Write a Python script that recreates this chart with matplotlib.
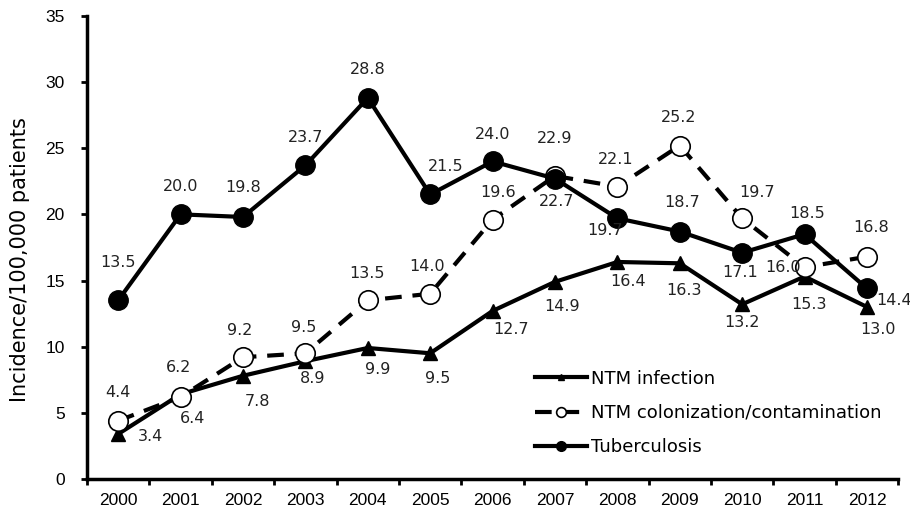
import matplotlib
matplotlib.use("Agg")
import matplotlib.pyplot as plt
import numpy as np

plt.rcParams['font.family'] = ['Liberation Sans', 'DejaVu Sans']

# 데이터
years = ['2000', '2001', '2002', '2003', '2004', '2005', '2006',
         '2007', '2008', '2009', '2010', '2011', '2012']
ntm_infection = [3.4, 6.4, 7.8, 8.9, 9.9, 9.5, 12.7, 14.9, 16.4, 16.3, 13.2, 15.3, 13.0]
ntm_colonization = [4.4, 6.2, 9.2, 9.5, 13.5, 14.0, 19.6, 22.9, 22.1, 25.2, 19.7, 16.0, 16.8]
tuberculosis = [13.5, 20.0, 19.8, 23.7, 28.8, 21.5, 24.0, 22.7, 19.7, 18.7, 17.1, 18.5, 14.4]

# 라벨 위치 (픽셀 오프셋, 화면 기준 dx, dy 아래가 +)
off_inf = [(32, 3), (12, 24), (15, 26), (7, 17), (10, 22), (8, 25), (18, 19),
           (7, 25), (11, 20), (4, 27), (0, 18), (4, 28), (11, 23)]
off_col = [(0, -28), (-2, -29), (-3, -27), (-2, -26), (-1, -27), (-3, -27), (5, -27),
           (0, -37), (-2, -27), (-1, -28), (15, -26), (-22, 0), (4, -29)]
off_tb = [(0, -38), (0, -28), (0, -29), (0, -28), (0, -28), (16, -28), (0, -27),
          (2, 23), (-12, 12), (2, -29), (-2, 20), (3, -21), (27, 12)]

wide_font = ['DejaVu Sans']

x = np.arange(len(years))

fig = plt.figure(figsize=(9.1, 5.12), dpi=100)
ax = fig.add_axes([0.0956, 0.0645, 0.8914, 0.9045])

ax.plot(x, ntm_infection, color='black', lw=3, marker='^', ms=10,
        label='NTM infection', zorder=3)
ax.plot(x, ntm_colonization, color='black', lw=3, ls=(0, (4, 2.6)), marker='o',
        ms=14, mfc='white', mec='black', mew=1.2,
        label='NTM colonization/contamination', zorder=4)
ax.plot(x, tuberculosis, color='black', lw=3, marker='o', ms=14,
        label='Tuberculosis', zorder=5)

def add_labels(vals, offs):
    for xi, v, (dx, dy) in zip(x, vals, offs):
        ax.annotate(f'{v:.1f}', (xi, v), xytext=(dx, -dy), textcoords='offset pixels',
                    ha='center', va='center', fontsize=11.5, family=wide_font,
                    color='#222222', zorder=6)

add_labels(ntm_infection, off_inf)
add_labels(ntm_colonization, off_col)
add_labels(tuberculosis, off_tb)

ax.set_xlim(-0.5, len(years) - 0.5)
ax.set_ylim(0, 35)
ax.set_yticks(np.arange(0, 36, 5))
ax.set_xticks(x)
ax.set_xticklabels(years)
ax.set_xticks(np.arange(-0.5, len(years), 1), minor=True)
ax.tick_params(axis='x', which='major', length=0, pad=10, labelsize=12.5)
ax.tick_params(axis='x', which='minor', length=4, width=2, direction='out')
ax.tick_params(axis='y', length=4, width=2, direction='out', pad=12, labelsize=12.5)

for s in ['top', 'right']:
    ax.spines[s].set_visible(False)
for s in ['left', 'bottom']:
    ax.spines[s].set_linewidth(2.5)

ax.set_ylabel('Incidence/100,000 patients', fontsize=15, family=wide_font)
ax.yaxis.set_label_coords(-0.070, 0.473)

leg = ax.legend(loc='upper left', bbox_to_anchor=(0.588, 0.278),
                bbox_transform=fig.transFigure, frameon=False,
                prop={'family': wide_font, 'size': 13},
                markerscale=0.5, handlelength=2.9, handletextpad=0.2,
                labelspacing=0.9, borderpad=0, borderaxespad=0)

fig.savefig('out.png', dpi=100)
